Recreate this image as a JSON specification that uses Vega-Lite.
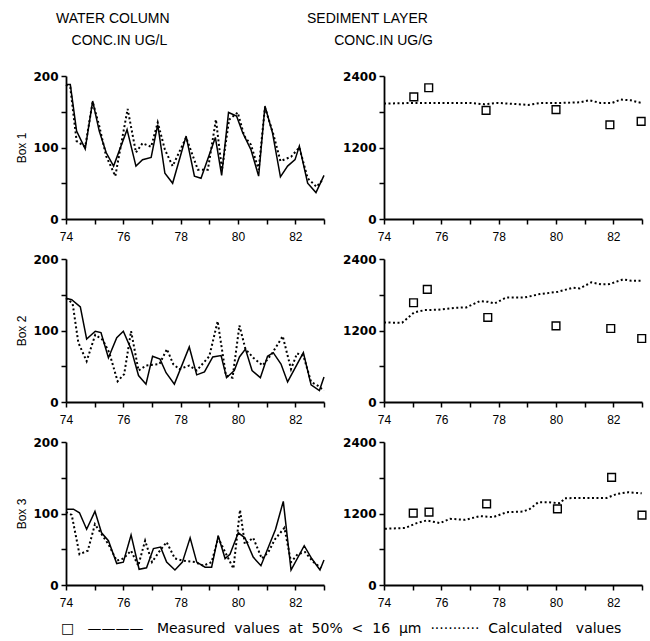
{
 "$schema": "https://vega.github.io/schema/vega-lite/v6.json",
 "padding": {"left": 15, "top": 12, "right": 2, "bottom": 5},
 "background": "white",
 "title": {"text": "□\u00a0\u00a0\u00a0————\u00a0\u00a0\u00a0Measured\u00a0 values\u00a0 at\u00a0 50%\u00a0 <\u00a0 16\u00a0 µm\u00a0\u00a0···········\u00a0\u00a0Calculated\u00a0\u00a0 values", "orient": "bottom", "anchor": "start", "frame": "bounds", "dx": 45, "offset": 14, "font": "DejaVu Sans", "fontSize": 14, "fontWeight": "normal", "color": "black"},
 "columns": 2,
 "bounds": "flush",
 "spacing": {"row": 40, "column": 60},
 "datasets": {
  "water": [
   {"box":1,"series":"measured","year":74,"value":188},{"box":1,"series":"measured","year":74.15,"value":188},{"box":1,"series":"measured","year":74.37,"value":123},{"box":1,"series":"measured","year":74.67,"value":98},{"box":1,"series":"measured","year":74.93,"value":165},{"box":1,"series":"measured","year":75.16,"value":123},{"box":1,"series":"measured","year":75.4,"value":93},{"box":1,"series":"measured","year":75.66,"value":74},{"box":1,"series":"measured","year":76.13,"value":125},{"box":1,"series":"measured","year":76.44,"value":74},{"box":1,"series":"measured","year":76.67,"value":83},{"box":1,"series":"measured","year":76.97,"value":86},{"box":1,"series":"measured","year":77.2,"value":132},{"box":1,"series":"measured","year":77.45,"value":64},{"box":1,"series":"measured","year":77.72,"value":50},{"box":1,"series":"measured","year":78.19,"value":116},{"box":1,"series":"measured","year":78.48,"value":60},{"box":1,"series":"measured","year":78.71,"value":57},{"box":1,"series":"measured","year":79.21,"value":114},{"box":1,"series":"measured","year":79.43,"value":61},{"box":1,"series":"measured","year":79.67,"value":149},{"box":1,"series":"measured","year":79.95,"value":144},{"box":1,"series":"measured","year":80.16,"value":121},{"box":1,"series":"measured","year":80.45,"value":97},{"box":1,"series":"measured","year":80.72,"value":60},{"box":1,"series":"measured","year":80.94,"value":158},{"box":1,"series":"measured","year":81.2,"value":121},{"box":1,"series":"measured","year":81.48,"value":59},{"box":1,"series":"measured","year":81.73,"value":74},{"box":1,"series":"measured","year":81.99,"value":83},{"box":1,"series":"measured","year":82.14,"value":102},{"box":1,"series":"measured","year":82.43,"value":50},{"box":1,"series":"measured","year":82.72,"value":37},{"box":1,"series":"measured","year":83,"value":61},
   {"box":1,"series":"calculated","year":74,"value":188},{"box":1,"series":"calculated","year":74.15,"value":184},{"box":1,"series":"calculated","year":74.37,"value":109},{"box":1,"series":"calculated","year":74.67,"value":101},{"box":1,"series":"calculated","year":74.93,"value":164},{"box":1,"series":"calculated","year":75.16,"value":130},{"box":1,"series":"calculated","year":75.4,"value":88},{"box":1,"series":"calculated","year":75.72,"value":60},{"box":1,"series":"calculated","year":76.15,"value":154},{"box":1,"series":"calculated","year":76.44,"value":93},{"box":1,"series":"calculated","year":76.67,"value":106},{"box":1,"series":"calculated","year":76.97,"value":101},{"box":1,"series":"calculated","year":77.2,"value":135},{"box":1,"series":"calculated","year":77.45,"value":97},{"box":1,"series":"calculated","year":77.72,"value":74},{"box":1,"series":"calculated","year":78.19,"value":114},{"box":1,"series":"calculated","year":78.6,"value":69},{"box":1,"series":"calculated","year":78.95,"value":69},{"box":1,"series":"calculated","year":79.23,"value":139},{"box":1,"series":"calculated","year":79.44,"value":69},{"box":1,"series":"calculated","year":79.69,"value":139},{"box":1,"series":"calculated","year":79.99,"value":149},{"box":1,"series":"calculated","year":80.22,"value":116},{"box":1,"series":"calculated","year":80.45,"value":104},{"box":1,"series":"calculated","year":80.72,"value":69},{"box":1,"series":"calculated","year":80.94,"value":156},{"box":1,"series":"calculated","year":81.23,"value":119},{"box":1,"series":"calculated","year":81.48,"value":81},{"box":1,"series":"calculated","year":81.85,"value":87},{"box":1,"series":"calculated","year":82.14,"value":100},{"box":1,"series":"calculated","year":82.43,"value":57},{"box":1,"series":"calculated","year":82.74,"value":45},{"box":1,"series":"calculated","year":82.95,"value":55},
   {"box":2,"series":"measured","year":74,"value":145},{"box":2,"series":"measured","year":74.2,"value":143},{"box":2,"series":"measured","year":74.5,"value":133},{"box":2,"series":"measured","year":74.72,"value":88},{"box":2,"series":"measured","year":75.02,"value":99},{"box":2,"series":"measured","year":75.22,"value":97},{"box":2,"series":"measured","year":75.48,"value":62},{"box":2,"series":"measured","year":75.77,"value":90},{"box":2,"series":"measured","year":76,"value":99},{"box":2,"series":"measured","year":76.27,"value":74},{"box":2,"series":"measured","year":76.53,"value":37},{"box":2,"series":"measured","year":76.79,"value":25},{"box":2,"series":"measured","year":77.02,"value":64},{"box":2,"series":"measured","year":77.28,"value":60},{"box":2,"series":"measured","year":77.49,"value":41},{"box":2,"series":"measured","year":77.78,"value":25},{"box":2,"series":"measured","year":78.3,"value":77},{"box":2,"series":"measured","year":78.56,"value":38},{"box":2,"series":"measured","year":78.83,"value":42},{"box":2,"series":"measured","year":79.12,"value":63},{"box":2,"series":"measured","year":79.41,"value":65},{"box":2,"series":"measured","year":79.6,"value":34},{"box":2,"series":"measured","year":79.87,"value":44},{"box":2,"series":"measured","year":80.05,"value":63},{"box":2,"series":"measured","year":80.26,"value":74},{"box":2,"series":"measured","year":80.49,"value":44},{"box":2,"series":"measured","year":80.78,"value":34},{"box":2,"series":"measured","year":81.03,"value":64},{"box":2,"series":"measured","year":81.23,"value":69},{"box":2,"series":"measured","year":81.5,"value":53},{"box":2,"series":"measured","year":81.73,"value":28},{"box":2,"series":"measured","year":82.28,"value":69},{"box":2,"series":"measured","year":82.55,"value":24},{"box":2,"series":"measured","year":82.84,"value":16},{"box":2,"series":"measured","year":83,"value":35},
   {"box":2,"series":"calculated","year":74,"value":145},{"box":2,"series":"calculated","year":74.23,"value":138},{"box":2,"series":"calculated","year":74.43,"value":83},{"box":2,"series":"calculated","year":74.72,"value":57},{"box":2,"series":"calculated","year":75.02,"value":94},{"box":2,"series":"calculated","year":75.28,"value":87},{"box":2,"series":"calculated","year":75.51,"value":69},{"box":2,"series":"calculated","year":75.8,"value":29},{"box":2,"series":"calculated","year":76.03,"value":39},{"box":2,"series":"calculated","year":76.27,"value":99},{"box":2,"series":"calculated","year":76.53,"value":44},{"box":2,"series":"calculated","year":76.79,"value":51},{"box":2,"series":"calculated","year":77.26,"value":53},{"box":2,"series":"calculated","year":77.52,"value":74},{"box":2,"series":"calculated","year":77.74,"value":53},{"box":2,"series":"calculated","year":77.95,"value":46},{"box":2,"series":"calculated","year":78.3,"value":51},{"box":2,"series":"calculated","year":78.56,"value":44},{"box":2,"series":"calculated","year":79,"value":64},{"box":2,"series":"calculated","year":79.29,"value":113},{"box":2,"series":"calculated","year":79.58,"value":37},{"box":2,"series":"calculated","year":79.81,"value":34},{"box":2,"series":"calculated","year":80.05,"value":107},{"box":2,"series":"calculated","year":80.26,"value":74},{"box":2,"series":"calculated","year":80.53,"value":62},{"box":2,"series":"calculated","year":80.86,"value":51},{"box":2,"series":"calculated","year":81.19,"value":68},{"box":2,"series":"calculated","year":81.56,"value":92},{"box":2,"series":"calculated","year":81.85,"value":46},{"box":2,"series":"calculated","year":82.06,"value":68},{"box":2,"series":"calculated","year":82.28,"value":65},{"box":2,"series":"calculated","year":82.55,"value":28},{"box":2,"series":"calculated","year":82.78,"value":23},{"box":2,"series":"calculated","year":83,"value":16},
   {"box":3,"series":"measured","year":74,"value":106},{"box":3,"series":"measured","year":74.26,"value":106},{"box":3,"series":"measured","year":74.47,"value":101},{"box":3,"series":"measured","year":74.72,"value":78},{"box":3,"series":"measured","year":75.01,"value":103},{"box":3,"series":"measured","year":75.24,"value":73},{"box":3,"series":"measured","year":75.48,"value":62},{"box":3,"series":"measured","year":75.77,"value":30},{"box":3,"series":"measured","year":76,"value":32},{"box":3,"series":"measured","year":76.27,"value":70},{"box":3,"series":"measured","year":76.55,"value":22},{"box":3,"series":"measured","year":76.81,"value":24},{"box":3,"series":"measured","year":77.05,"value":51},{"box":3,"series":"measured","year":77.3,"value":53},{"box":3,"series":"measured","year":77.51,"value":32},{"box":3,"series":"measured","year":77.8,"value":21},{"box":3,"series":"measured","year":78.06,"value":32},{"box":3,"series":"measured","year":78.33,"value":66},{"box":3,"series":"measured","year":78.56,"value":32},{"box":3,"series":"measured","year":78.85,"value":25},{"box":3,"series":"measured","year":79.08,"value":25},{"box":3,"series":"measured","year":79.31,"value":69},{"box":3,"series":"measured","year":79.55,"value":37},{"box":3,"series":"measured","year":79.72,"value":43},{"box":3,"series":"measured","year":80.01,"value":73},{"box":3,"series":"measured","year":80.24,"value":66},{"box":3,"series":"measured","year":80.53,"value":39},{"box":3,"series":"measured","year":80.8,"value":27},{"box":3,"series":"measured","year":81.03,"value":50},{"box":3,"series":"measured","year":81.31,"value":78},{"box":3,"series":"measured","year":81.58,"value":117},{"box":3,"series":"measured","year":81.85,"value":21},{"box":3,"series":"measured","year":82.31,"value":55},{"box":3,"series":"measured","year":82.57,"value":37},{"box":3,"series":"measured","year":82.86,"value":21},{"box":3,"series":"measured","year":83,"value":35},
   {"box":3,"series":"calculated","year":74,"value":102},{"box":3,"series":"calculated","year":74.2,"value":98},{"box":3,"series":"calculated","year":74.47,"value":43},{"box":3,"series":"calculated","year":74.76,"value":48},{"box":3,"series":"calculated","year":75.01,"value":85},{"box":3,"series":"calculated","year":75.24,"value":71},{"box":3,"series":"calculated","year":75.48,"value":57},{"box":3,"series":"calculated","year":75.77,"value":34},{"box":3,"series":"calculated","year":76,"value":37},{"box":3,"series":"calculated","year":76.27,"value":48},{"box":3,"series":"calculated","year":76.52,"value":27},{"box":3,"series":"calculated","year":76.76,"value":62},{"box":3,"series":"calculated","year":77,"value":32},{"box":3,"series":"calculated","year":77.24,"value":46},{"box":3,"series":"calculated","year":77.51,"value":60},{"box":3,"series":"calculated","year":77.8,"value":37},{"box":3,"series":"calculated","year":78.09,"value":34},{"box":3,"series":"calculated","year":78.5,"value":32},{"box":3,"series":"calculated","year":78.79,"value":27},{"box":3,"series":"calculated","year":79.08,"value":32},{"box":3,"series":"calculated","year":79.31,"value":66},{"box":3,"series":"calculated","year":79.55,"value":46},{"box":3,"series":"calculated","year":79.84,"value":23},{"box":3,"series":"calculated","year":80.07,"value":105},{"box":3,"series":"calculated","year":80.24,"value":57},{"box":3,"series":"calculated","year":80.53,"value":66},{"box":3,"series":"calculated","year":80.83,"value":37},{"box":3,"series":"calculated","year":81.06,"value":46},{"box":3,"series":"calculated","year":81.29,"value":64},{"box":3,"series":"calculated","year":81.62,"value":80},{"box":3,"series":"calculated","year":81.85,"value":32},{"box":3,"series":"calculated","year":82.08,"value":43},{"box":3,"series":"calculated","year":82.34,"value":46},{"box":3,"series":"calculated","year":82.63,"value":32},{"box":3,"series":"calculated","year":82.9,"value":24}
  ],
  "sediment": [
   {"box":1,"series":"measured","year":75.04,"value":2050},{"box":1,"series":"measured","year":75.56,"value":2202},{"box":1,"series":"measured","year":77.56,"value":1824},{"box":1,"series":"measured","year":80,"value":1835},{"box":1,"series":"measured","year":81.88,"value":1581},{"box":1,"series":"measured","year":82.97,"value":1638},
   {"box":1,"series":"calculated","year":74,"value":1937},{"box":1,"series":"calculated","year":75,"value":1948},{"box":1,"series":"calculated","year":77,"value":1948},{"box":1,"series":"calculated","year":77.5,"value":1926},{"box":1,"series":"calculated","year":77.98,"value":1948},{"box":1,"series":"calculated","year":78.55,"value":1931},{"box":1,"series":"calculated","year":79.02,"value":1914},{"box":1,"series":"calculated","year":79.48,"value":1948},{"box":1,"series":"calculated","year":80.17,"value":1948},{"box":1,"series":"calculated","year":80.86,"value":1959},{"box":1,"series":"calculated","year":81.15,"value":1993},{"box":1,"series":"calculated","year":81.55,"value":1948},{"box":1,"series":"calculated","year":81.96,"value":1948},{"box":1,"series":"calculated","year":82.25,"value":2005},{"box":1,"series":"calculated","year":82.6,"value":1993},{"box":1,"series":"calculated","year":82.88,"value":1959},{"box":1,"series":"calculated","year":83,"value":1948},
   {"box":2,"series":"measured","year":75.03,"value":1665},{"box":2,"series":"measured","year":75.51,"value":1890},{"box":2,"series":"measured","year":77.62,"value":1419},{"box":2,"series":"measured","year":80,"value":1278},{"box":2,"series":"measured","year":81.91,"value":1234},{"box":2,"series":"measured","year":82.99,"value":1065},
   {"box":2,"series":"calculated","year":74,"value":1335},{"box":2,"series":"calculated","year":74.63,"value":1329},{"box":2,"series":"calculated","year":75.05,"value":1503},{"box":2,"series":"calculated","year":75.42,"value":1542},{"box":2,"series":"calculated","year":75.88,"value":1548},{"box":2,"series":"calculated","year":76.47,"value":1581},{"box":2,"series":"calculated","year":76.87,"value":1587},{"box":2,"series":"calculated","year":77.34,"value":1693},{"box":2,"series":"calculated","year":77.63,"value":1682},{"box":2,"series":"calculated","year":77.86,"value":1654},{"box":2,"series":"calculated","year":78.27,"value":1755},{"box":2,"series":"calculated","year":78.91,"value":1755},{"box":2,"series":"calculated","year":79.43,"value":1811},{"box":2,"series":"calculated","year":80.07,"value":1850},{"box":2,"series":"calculated","year":80.59,"value":1918},{"box":2,"series":"calculated","year":80.83,"value":1907},{"box":2,"series":"calculated","year":81.23,"value":2007},{"box":2,"series":"calculated","year":81.58,"value":1974},{"box":2,"series":"calculated","year":81.87,"value":1979},{"box":2,"series":"calculated","year":82.34,"value":2058},{"box":2,"series":"calculated","year":82.63,"value":2035},{"box":2,"series":"calculated","year":82.98,"value":2035},
   {"box":3,"series":"measured","year":75.02,"value":1206},{"box":3,"series":"measured","year":75.57,"value":1222},{"box":3,"series":"measured","year":77.58,"value":1361},{"box":3,"series":"measured","year":80.05,"value":1278},{"box":3,"series":"measured","year":81.94,"value":1806},{"box":3,"series":"measured","year":83,"value":1172},
   {"box":3,"series":"calculated","year":74.03,"value":944},{"box":3,"series":"calculated","year":74.73,"value":956},{"box":3,"series":"calculated","year":75.14,"value":1039},{"box":3,"series":"calculated","year":75.49,"value":1083},{"box":3,"series":"calculated","year":75.95,"value":1039},{"box":3,"series":"calculated","year":76.3,"value":1111},{"box":3,"series":"calculated","year":76.83,"value":1094},{"box":3,"series":"calculated","year":77.35,"value":1156},{"box":3,"series":"calculated","year":77.81,"value":1139},{"box":3,"series":"calculated","year":78.28,"value":1222},{"box":3,"series":"calculated","year":78.86,"value":1233},{"box":3,"series":"calculated","year":79.09,"value":1278},{"box":3,"series":"calculated","year":79.38,"value":1389},{"box":3,"series":"calculated","year":79.73,"value":1389},{"box":3,"series":"calculated","year":80.14,"value":1372},{"box":3,"series":"calculated","year":80.31,"value":1456},{"box":3,"series":"calculated","year":80.84,"value":1461},{"box":3,"series":"calculated","year":81.3,"value":1461},{"box":3,"series":"calculated","year":81.77,"value":1461},{"box":3,"series":"calculated","year":82.12,"value":1528},{"box":3,"series":"calculated","year":82.52,"value":1556},{"box":3,"series":"calculated","year":82.99,"value":1539}
  ]
 },
 "concat": [
  {
   "width": 258, "height": 143,
   "title": {"text": ["WATER COLUMN", "\u200b\u00a0\u00a0\u00a0\u00a0CONC.IN UG/L"], "anchor": "start", "frame": "group", "dx": -10, "offset": 22, "font": "Liberation Sans", "fontSize": 14, "fontWeight": "normal", "lineHeight": 22, "color": "black"},
   "data": {"name": "water"},
   "transform": [{"filter": "datum.box == 1"}],
   "encoding": {
    "x": {"field": "year", "type": "quantitative", "scale": {"domain": [74, 83], "nice": false, "zero": false}, "axis": {"title": null, "values": [74,75,76,77,78,79,80,81,82,83], "labelExpr": "datum.value % 2 == 0 ? datum.label : ''"}},
    "y": {"field": "value", "type": "quantitative", "scale": {"domain": [0, 200], "nice": false}, "axis": {"title": "Box 1", "labelFontWeight": "bold", "values": [0,50,100,150,200], "labelExpr": "datum.value % 100 == 0 ? datum.label : ''"}}
   },
   "layer": [
    {"transform": [{"filter": "datum.series == 'measured'"}], "mark": {"type": "line", "color": "black", "strokeWidth": 1.5}},
    {"transform": [{"filter": "datum.series == 'calculated'"}], "mark": {"type": "line", "color": "black", "strokeWidth": 2, "strokeDash": [2, 2.5]}}
   ]
  },
  {
   "width": 258, "height": 143,
   "title": {"text": ["SEDIMENT LAYER", "\u200b\u00a0\u00a0\u00a0\u00a0\u00a0\u00a0\u00a0CONC.IN UG/G"], "anchor": "start", "frame": "group", "dx": -77, "offset": 22, "font": "Liberation Sans", "fontSize": 14, "fontWeight": "normal", "lineHeight": 22, "color": "black"},
   "data": {"name": "sediment"},
   "transform": [{"filter": "datum.box == 1"}],
   "encoding": {
    "x": {"field": "year", "type": "quantitative", "scale": {"domain": [74, 83], "nice": false, "zero": false}, "axis": {"title": null, "values": [74,75,76,77,78,79,80,81,82,83], "labelExpr": "datum.value % 2 == 0 ? datum.label : ''"}},
    "y": {"field": "value", "type": "quantitative", "scale": {"domain": [0, 2400], "nice": false}, "axis": {"title": null, "labelFontWeight": "bold", "format": "d", "values": [0,600,1200,1800,2400], "labelExpr": "datum.value % 1200 == 0 ? datum.label : ''"}}
   },
   "layer": [
    {"transform": [{"filter": "datum.series == 'calculated'"}], "mark": {"type": "line", "color": "black", "strokeWidth": 2, "strokeDash": [2, 2.5]}},
    {"transform": [{"filter": "datum.series == 'measured'"}], "mark": {"type": "point", "shape": "square", "filled": false, "color": "black", "size": 60, "strokeWidth": 1.4, "opacity": 1}}
   ]
  },
  {
   "width": 258, "height": 143,
   "data": {"name": "water"},
   "transform": [{"filter": "datum.box == 2"}],
   "encoding": {
    "x": {"field": "year", "type": "quantitative", "scale": {"domain": [74, 83], "nice": false, "zero": false}, "axis": {"title": null, "values": [74,75,76,77,78,79,80,81,82,83], "labelExpr": "datum.value % 2 == 0 ? datum.label : ''"}},
    "y": {"field": "value", "type": "quantitative", "scale": {"domain": [0, 200], "nice": false}, "axis": {"title": "Box 2", "labelFontWeight": "bold", "values": [0,50,100,150,200], "labelExpr": "datum.value % 100 == 0 ? datum.label : ''"}}
   },
   "layer": [
    {"transform": [{"filter": "datum.series == 'measured'"}], "mark": {"type": "line", "color": "black", "strokeWidth": 1.5}},
    {"transform": [{"filter": "datum.series == 'calculated'"}], "mark": {"type": "line", "color": "black", "strokeWidth": 2, "strokeDash": [2, 2.5]}}
   ]
  },
  {
   "width": 258, "height": 143,
   "data": {"name": "sediment"},
   "transform": [{"filter": "datum.box == 2"}],
   "encoding": {
    "x": {"field": "year", "type": "quantitative", "scale": {"domain": [74, 83], "nice": false, "zero": false}, "axis": {"title": null, "values": [74,75,76,77,78,79,80,81,82,83], "labelExpr": "datum.value % 2 == 0 ? datum.label : ''"}},
    "y": {"field": "value", "type": "quantitative", "scale": {"domain": [0, 2400], "nice": false}, "axis": {"title": null, "labelFontWeight": "bold", "format": "d", "values": [0,600,1200,1800,2400], "labelExpr": "datum.value % 1200 == 0 ? datum.label : ''"}}
   },
   "layer": [
    {"transform": [{"filter": "datum.series == 'calculated'"}], "mark": {"type": "line", "color": "black", "strokeWidth": 2, "strokeDash": [2, 2.5]}},
    {"transform": [{"filter": "datum.series == 'measured'"}], "mark": {"type": "point", "shape": "square", "filled": false, "color": "black", "size": 60, "strokeWidth": 1.4, "opacity": 1}}
   ]
  },
  {
   "width": 258, "height": 143,
   "data": {"name": "water"},
   "transform": [{"filter": "datum.box == 3"}],
   "encoding": {
    "x": {"field": "year", "type": "quantitative", "scale": {"domain": [74, 83], "nice": false, "zero": false}, "axis": {"title": null, "values": [74,75,76,77,78,79,80,81,82,83], "labelExpr": "datum.value % 2 == 0 ? datum.label : ''"}},
    "y": {"field": "value", "type": "quantitative", "scale": {"domain": [0, 200], "nice": false}, "axis": {"title": "Box 3", "labelFontWeight": "bold", "values": [0,50,100,150,200], "labelExpr": "datum.value % 100 == 0 ? datum.label : ''"}}
   },
   "layer": [
    {"transform": [{"filter": "datum.series == 'measured'"}], "mark": {"type": "line", "color": "black", "strokeWidth": 1.5}},
    {"transform": [{"filter": "datum.series == 'calculated'"}], "mark": {"type": "line", "color": "black", "strokeWidth": 2, "strokeDash": [2, 2.5]}}
   ]
  },
  {
   "width": 258, "height": 143,
   "data": {"name": "sediment"},
   "transform": [{"filter": "datum.box == 3"}],
   "encoding": {
    "x": {"field": "year", "type": "quantitative", "scale": {"domain": [74, 83], "nice": false, "zero": false}, "axis": {"title": null, "values": [74,75,76,77,78,79,80,81,82,83], "labelExpr": "datum.value % 2 == 0 ? datum.label : ''"}},
    "y": {"field": "value", "type": "quantitative", "scale": {"domain": [0, 2400], "nice": false}, "axis": {"title": null, "labelFontWeight": "bold", "format": "d", "values": [0,600,1200,1800,2400], "labelExpr": "datum.value % 1200 == 0 ? datum.label : ''"}}
   },
   "layer": [
    {"transform": [{"filter": "datum.series == 'calculated'"}], "mark": {"type": "line", "color": "black", "strokeWidth": 2, "strokeDash": [2, 2.5]}},
    {"transform": [{"filter": "datum.series == 'measured'"}], "mark": {"type": "point", "shape": "square", "filled": false, "color": "black", "size": 60, "strokeWidth": 1.4, "opacity": 1}}
   ]
  }
 ],
 "config": {
  "view": {"stroke": null},
  "axis": {"grid": false, "domainColor": "black", "tickColor": "black", "labelColor": "black", "titleColor": "black", "domainWidth": 1.8, "tickWidth": 1.5, "tickSize": 5, "labelFlush": false, "labelOverlap": false},
  "axisX": {"labelFont": "Liberation Sans", "labelFontSize": 12, "labelFontWeight": "normal", "labelPadding": 7},
  "axisY": {"labelFont": "DejaVu Sans", "labelFontSize": 12, "labelFontWeight": "bold", "labelPadding": 3, "titleFont": "Liberation Sans", "titleFontSize": 12, "titleFontWeight": "normal", "titlePadding": 4}
 }
}
